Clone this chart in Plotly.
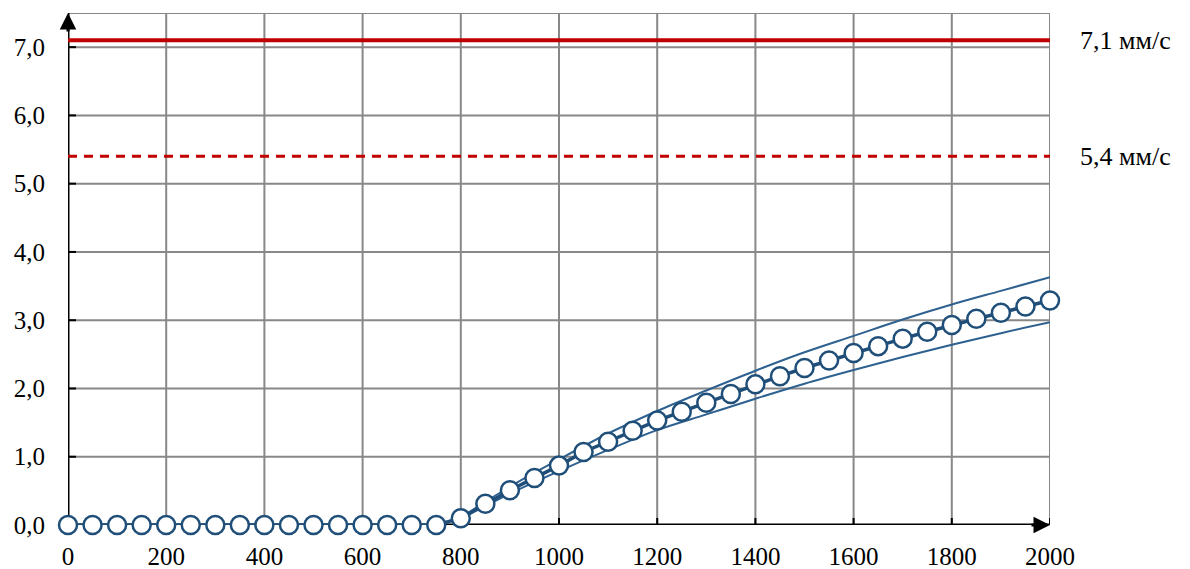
import plotly.graph_objects as go

# ---- data ----
speed = [0, 50, 100, 150, 200, 250, 300, 350, 400, 450, 500, 550, 600, 650, 700, 750,
         800, 850, 900, 950, 1000, 1050, 1100, 1150, 1200, 1250, 1300, 1350, 1400, 1450,
         1500, 1550, 1600, 1650, 1700, 1750, 1800, 1850, 1900, 1950, 2000]
vib = [0, 0, 0, 0, 0, 0, 0, 0, 0, 0, 0, 0, 0, 0, 0, 0,
       0.10, 0.31, 0.51, 0.69, 0.87, 1.07, 1.22, 1.38, 1.53, 1.66, 1.79, 1.92, 2.06, 2.18,
       2.30, 2.41, 2.52, 2.62, 2.73, 2.83, 2.93, 3.02, 3.11, 3.20, 3.29]

env_x = [800, 900, 1000, 1100, 1200, 1300, 1400, 1500, 1600, 1700, 1800, 1900, 2000]
env_upper = [0.11, 0.56, 0.96, 1.34, 1.67, 1.97, 2.26, 2.53, 2.77, 3.01, 3.23, 3.43, 3.63]
env_lower = [0.09, 0.46, 0.79, 1.10, 1.39, 1.62, 1.85, 2.07, 2.27, 2.46, 2.64, 2.81, 2.97]

limit_alarm = 7.1
limit_warn = 5.4
limit_labels = ["7,1 мм/с", "5,4 мм/с"]

x_ticks = [0, 200, 400, 600, 800, 1000, 1200, 1400, 1600, 1800, 2000]
y_ticks = [0, 1, 2, 3, 4, 5, 6, 7]
x_max = 2000
y_max = 7.5

BLUE = "#1F4E79"
ENV = "#2E6190"
RED = "#C00000"
GRID = "#888888"
FONT = "Liberation Serif, Times New Roman, Times, serif"
TFONT = dict(family=FONT, size=25, color="black")
AFONT = dict(family=FONT, size=26, color="black")

fig = go.Figure()

fig.add_trace(go.Scatter(x=env_x, y=env_upper, mode="lines",
                         line=dict(color=ENV, width=2, shape="spline", smoothing=1),
                         hoverinfo="skip", cliponaxis=False))
fig.add_trace(go.Scatter(x=env_x, y=env_lower, mode="lines",
                         line=dict(color=ENV, width=2, shape="spline", smoothing=1),
                         hoverinfo="skip", cliponaxis=False))
fig.add_trace(go.Scatter(x=[0, x_max], y=[limit_alarm, limit_alarm], mode="lines",
                         line=dict(color=RED, width=4), cliponaxis=False))
fig.add_trace(go.Scatter(x=[0, x_max], y=[limit_warn, limit_warn], mode="lines",
                         line=dict(color=RED, width=3, dash="9px,7px"), cliponaxis=False))
fig.add_trace(go.Scatter(x=speed, y=vib, mode="lines+markers",
                         line=dict(color=BLUE, width=3.5),
                         marker=dict(symbol="circle", size=18, color="white",
                                     line=dict(color=BLUE, width=2.5)),
                         cliponaxis=False))

shapes = []
# grid
for xv in x_ticks[1:]:
    shapes.append(dict(type="line", x0=xv, x1=xv, y0=0, y1=y_max, xref="x", yref="y",
                       line=dict(color=GRID, width=2), layer="below"))
for yv in y_ticks[1:] + [y_max]:
    shapes.append(dict(type="line", x0=0, x1=x_max, y0=yv, y1=yv, xref="x", yref="y",
                       line=dict(color=GRID, width=2), layer="below"))
# axes
shapes.append(dict(type="line", x0=0, x1=x_max, y0=0, y1=0, xref="x", yref="y",
                   line=dict(color="black", width=3), layer="below"))
shapes.append(dict(type="line", x0=0, x1=0, y0=0, y1=y_max, xref="x", yref="y",
                   line=dict(color="black", width=3), layer="below"))
# crossing ticks
for xv in x_ticks[1:]:
    shapes.append(dict(type="line", xref="x", yref="y", ysizemode="pixel", yanchor=0,
                       x0=xv, x1=xv, y0=-8, y1=7, line=dict(color="black", width=2),
                       layer="below"))
for yv in y_ticks[1:]:
    shapes.append(dict(type="line", xref="x", yref="y", xsizemode="pixel", xanchor=0,
                       x0=-8, x1=8, y0=yv, y1=yv, line=dict(color="black", width=2),
                       layer="below"))

annotations = []
# arrow heads on axes
annotations.append(dict(x=x_max, y=0, xref="x", yref="y", ax=-20, ay=0, text="",
                        showarrow=True, arrowhead=2, arrowsize=1.1, arrowwidth=3,
                        arrowcolor="black", standoff=0))
annotations.append(dict(x=0, y=y_max, xref="x", yref="y", ax=0, ay=20, text="",
                        showarrow=True, arrowhead=2, arrowsize=1.1, arrowwidth=3,
                        arrowcolor="black", standoff=0))
for val, lab in zip([limit_alarm, limit_warn], limit_labels):
    annotations.append(dict(x=1.0285, xref="paper", y=val, yref="y", text=lab,
                            showarrow=False, xanchor="left", yanchor="middle",
                            font=AFONT))

# page body has an 8px margin, so the figure is sized to fit the 1190x569 window
fig.update_layout(
    width=1182, height=561,
    margin=dict(l=60, r=140, t=5, b=44),
    paper_bgcolor="white", plot_bgcolor="white",
    showlegend=False,
    separators=", ",
    font=TFONT,
    shapes=shapes, annotations=annotations,
    xaxis=dict(range=[0, x_max], tickvals=x_ticks, tickformat="d", showgrid=False,
               zeroline=False, showline=False, ticks="", ticklabelstandoff=14,
               tickfont=TFONT, automargin=False),
    yaxis=dict(range=[0, y_max], tickvals=y_ticks, tickformat=".1f", showgrid=False,
               zeroline=False, showline=False, ticks="", ticklabelstandoff=22,
               tickfont=TFONT, automargin=False),
)

fig.write_html("out.html")
